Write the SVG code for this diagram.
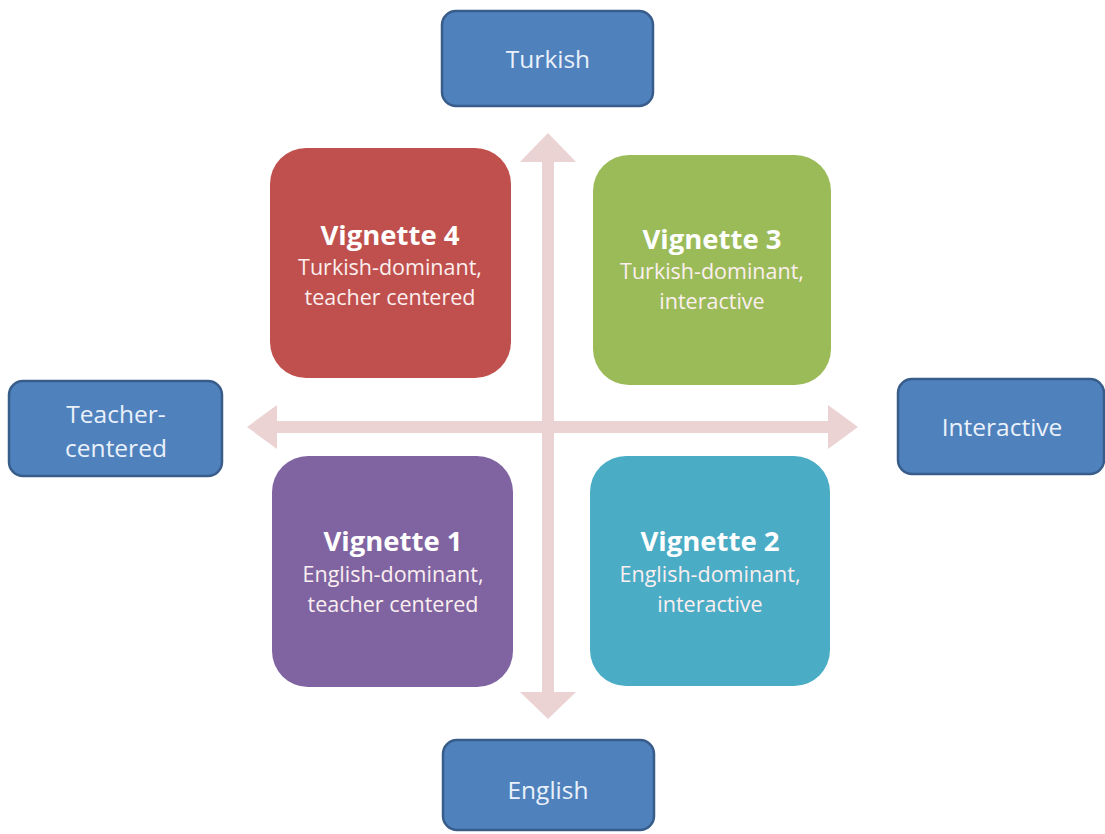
<svg xmlns="http://www.w3.org/2000/svg" width="1105" height="834" viewBox="0 0 1105 834">
<style>
.axis{fill:#4F81BD;stroke:#385D8A;stroke-width:2.5}
.at{font-family:"Open Sans","Liberation Sans",sans-serif;font-size:24.5px;fill:#EAF1FA;text-anchor:middle}
.vt{font-family:"Open Sans","Liberation Sans",sans-serif;font-size:27.5px;font-weight:bold;fill:#FFFFFF;text-anchor:middle}
.vs{font-family:"Open Sans","Liberation Sans",sans-serif;font-size:21.5px;fill:#FBEFEF;text-anchor:middle}
.arr{fill:#EBD3D3}
</style>
<rect width="1105" height="834" fill="#FFFFFF"/>
<g id="connectors">
<rect class="arr" x="542" y="160" width="12" height="535"/>
<polygon class="arr" points="548,133 576,162 520,162"/>
<polygon class="arr" points="548,719 576,692 520,692"/>
<rect class="arr" x="275" y="421" width="556" height="12"/>
<polygon class="arr" points="247,427 277,405 277,449"/>
<polygon class="arr" points="858,427 828,405 828,449"/>
</g>
<g id="turkish">
<rect class="axis" x="442" y="11" width="211" height="95" rx="14"/>
<text class="at" x="548" y="68">Turkish</text>
</g>
<g id="english">
<rect class="axis" x="443" y="740" width="211" height="90" rx="14"/>
<text class="at" x="548" y="799">English</text>
</g>
<g id="teacher-centered">
<rect class="axis" x="9" y="381" width="213" height="95" rx="14"/>
<text class="at" x="116" y="423">Teacher-</text>
<text class="at" x="116" y="457">centered</text>
</g>
<g id="interactive">
<rect class="axis" x="898" y="379" width="206" height="95" rx="14"/>
<text class="at" x="1002" y="436">Interactive</text>
</g>
<g id="vignette4">
<rect x="270" y="148" width="241" height="230" rx="36" fill="#C0504D"/>
<text class="vt" x="390" y="245">Vignette 4</text>
<text class="vs" x="390" y="275">Turkish-dominant,</text>
<text class="vs" x="390" y="305">teacher centered</text>
</g>
<g id="vignette3">
<rect x="593" y="155" width="238" height="230" rx="36" fill="#9BBB59"/>
<text class="vt" x="712" y="249">Vignette 3</text>
<text class="vs" x="712" y="279">Turkish-dominant,</text>
<text class="vs" x="712" y="309">interactive</text>
</g>
<g id="vignette1">
<rect x="272" y="456" width="241" height="231" rx="36" fill="#8064A2"/>
<text class="vt" x="393" y="551">Vignette 1</text>
<text class="vs" x="393" y="582">English-dominant,</text>
<text class="vs" x="393" y="612">teacher centered</text>
</g>
<g id="vignette2">
<rect x="590" y="456" width="240" height="230" rx="36" fill="#4BACC6"/>
<text class="vt" x="710" y="551">Vignette 2</text>
<text class="vs" x="710" y="582">English-dominant,</text>
<text class="vs" x="710" y="612">interactive</text>
</g>
</svg>
